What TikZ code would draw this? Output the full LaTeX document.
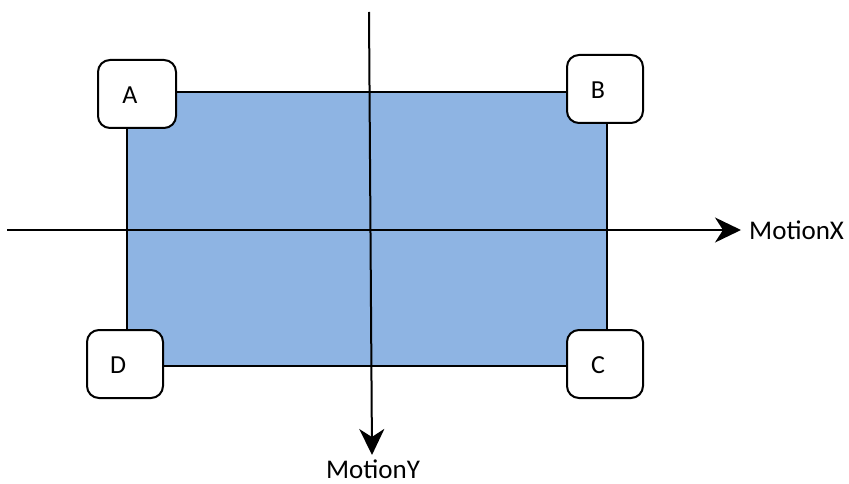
\documentclass[tikz,border=0pt]{standalone}
\usepackage{fontspec}
\setmainfont{Carlito}
\usetikzlibrary{arrows.meta}
\definecolor{fillblue}{HTML}{8EB4E3}
\tikzset{
  corner/.style={draw=black, line width=2pt, fill=white, rounded corners=12pt, minimum width=76pt, minimum height=68pt, inner sep=0pt},
  cornerlbl/.style={font=\fontsize{26}{26}\selectfont, inner sep=0pt},
  axis/.style={line width=2pt, -{Stealth[length=26pt,width=25pt,inset=8pt]}},
  axislbl/.style={font=\fontsize{27}{27}\selectfont, inner sep=0pt}
}
\begin{document}
\begin{tikzpicture}[x=1pt,y=-1pt]
\useasboundingbox (0,0) rectangle (849,484);
\node[draw=black, line width=2pt, fill=fillblue, minimum width=480pt, minimum height=274pt, inner sep=0pt] (plate) at (367,229) {};
\coordinate (xs) at (7,230);
\coordinate (xe) at (741,230);
\coordinate (ys) at (369,12);
\coordinate (ye) at (372,455);
\draw[axis] (xs) -- (xe);
\draw[axis] (ys) -- (ye);
\node[anchor=west, axislbl] (mx) at (749,230) {MotionX};
\node[anchor=north, axislbl] (my) at (373,460) {MotionY};
\node[corner, minimum width=78pt] (A) at (137,94) {};
\node[corner] (B) at (605,89) {};
\node[corner] (D) at (125,364) {};
\node[corner] (C) at (605,364) {};
\node[cornerlbl] at ([xshift=-7pt,yshift=-1pt]A.center) {A};
\node[cornerlbl] at ([xshift=-7pt,yshift=-1pt]B.center) {B};
\node[cornerlbl] at ([xshift=-7pt,yshift=-1pt]D.center) {D};
\node[cornerlbl] at ([xshift=-7pt,yshift=-1pt]C.center) {C};
\end{tikzpicture}
\end{document}
